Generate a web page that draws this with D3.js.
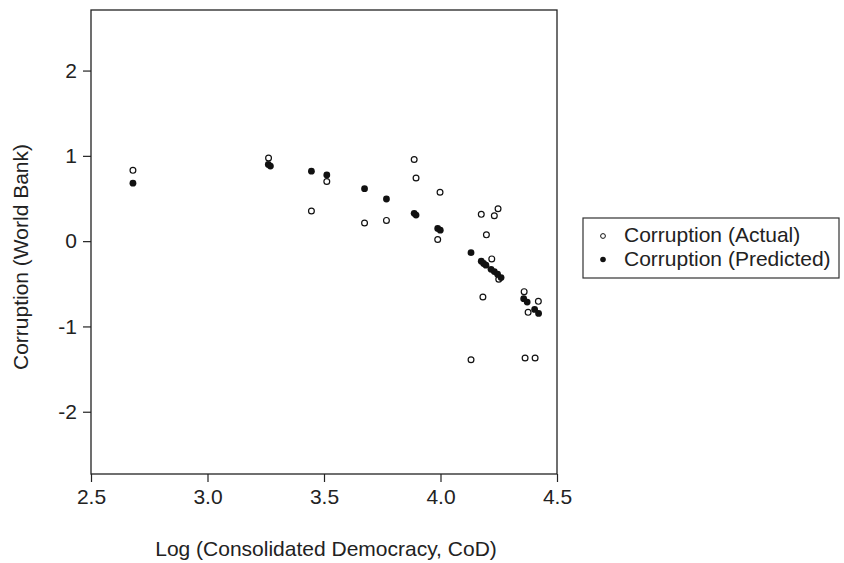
<!DOCTYPE html>
<html>
<head>
<meta charset="utf-8">
<script src="https://cdn.jsdelivr.net/npm/d3@7"></script>
<style>
  body { margin: 0; background: #fff; }
  text { font-family: "Liberation Sans", Arial, Helvetica, sans-serif; fill: #222; }
</style>
</head>
<body>
<svg width="844" height="563"></svg>
<script>
// actual corruption scores (open circles)
var actualX = [2.68, 3.262, 3.446, 3.512, 3.674, 3.768, 3.887, 3.895, 3.988, 3.998,
               4.131, 4.175, 4.182, 4.197, 4.220, 4.231, 4.247, 4.250, 4.359, 4.363,
               4.376, 4.406, 4.420];
var actualY = [0.83, 0.975, 0.353, 0.70, 0.212, 0.243, 0.957, 0.741, 0.02, 0.573,
               -1.39, 0.314, -0.655, 0.074, -0.208, 0.298, 0.38, -0.447, -0.592, -1.37,
               -0.835, -1.37, -0.706];
// predicted corruption (filled dots)
var predX = [2.68, 3.261, 3.27, 3.446, 3.512, 3.674, 3.768, 3.887, 3.895, 3.988,
             3.999, 4.131, 4.175, 4.185, 4.195, 4.217, 4.231, 4.245, 4.260, 4.357,
             4.372, 4.404, 4.421];
var predY = [0.68, 0.90, 0.88, 0.82, 0.776, 0.615, 0.494, 0.326, 0.306, 0.149,
             0.129, -0.135, -0.235, -0.262, -0.282, -0.33, -0.357, -0.388, -0.427, -0.675,
             -0.714, -0.80, -0.847];

var xTicks = [2.5, 3.0, 3.5, 4.0, 4.5];
var yTicks = [-2, -1, 0, 1, 2];
var legendLabels = ["Corruption (Actual)", "Corruption (Predicted)"];

var svg = d3.select("svg");
var pLeft = 91, pRight = 557, pTop = 10, pBottom = 474;
var fs = 21;

var x = d3.scaleLinear().domain([2.5, 4.5]).range([pLeft, pRight]);
var y = d3.scaleLinear().domain([-2.73, 2.71]).range([pBottom, pTop]);

// frame
svg.append("rect")
  .attr("x", pLeft).attr("y", pTop)
  .attr("width", pRight - pLeft).attr("height", pBottom - pTop)
  .attr("fill", "none").attr("stroke", "#222").attr("stroke-width", 1.3);

var xAxis = svg.append("g")
  .attr("transform", "translate(0," + pBottom + ")")
  .call(d3.axisBottom(x).tickValues(xTicks).tickFormat(d3.format(".1f")).tickSize(8).tickPadding(7));
var yAxis = svg.append("g")
  .attr("transform", "translate(" + pLeft + ",0)")
  .call(d3.axisLeft(y).tickValues(yTicks).tickFormat(function(d) { return String(d); }).tickSize(8).tickPadding(6));

[xAxis, yAxis].forEach(function(g) {
  g.select(".domain").remove();
  g.selectAll("line").attr("stroke", "#222").attr("stroke-width", 1.2);
  g.selectAll("text").attr("font-size", fs).attr("font-family", "Liberation Sans, Arial, sans-serif").attr("fill", "#222");
});

// axis titles
svg.append("text")
  .attr("x", 326).attr("y", 556)
  .attr("text-anchor", "middle").attr("font-size", fs)
  .text("Log (Consolidated Democracy, CoD)");
svg.append("text")
  .attr("transform", "translate(28,257) rotate(-90)")
  .attr("text-anchor", "middle").attr("font-size", fs)
  .text("Corruption (World Bank)");

// points
svg.append("g").selectAll("circle")
  .data(actualX)
  .enter().append("circle")
    .attr("cx", function(d) { return x(d); })
    .attr("cy", function(d, i) { return y(actualY[i]); })
    .attr("r", 2.9)
    .attr("fill", "#fff")
    .attr("stroke", "#111")
    .attr("stroke-width", 1.2);

svg.append("g").selectAll("circle")
  .data(predX)
  .enter().append("circle")
    .attr("cx", function(d) { return x(d); })
    .attr("cy", function(d, i) { return y(predY[i]); })
    .attr("r", 3.4)
    .attr("fill", "#111");

// legend
var lg = svg.append("g");
lg.append("rect")
  .attr("x", 583).attr("y", 218).attr("width", 256).attr("height", 60)
  .attr("fill", "#fff").attr("stroke", "#333").attr("stroke-width", 1.2);
legendLabels.forEach(function(lab, i) {
  var base = 242 + i * 23.5;
  lg.append("circle")
    .attr("cx", 603).attr("cy", base - 6)
    .attr("r", i == 0 ? 2.4 : 2.8)
    .attr("fill", i == 0 ? "#fff" : "#111")
    .attr("stroke", "#111").attr("stroke-width", i == 0 ? 1 : 0);
  lg.append("text")
    .attr("x", 624).attr("y", base)
    .attr("font-size", fs)
    .text(lab);
});
</script>
</body>
</html>
